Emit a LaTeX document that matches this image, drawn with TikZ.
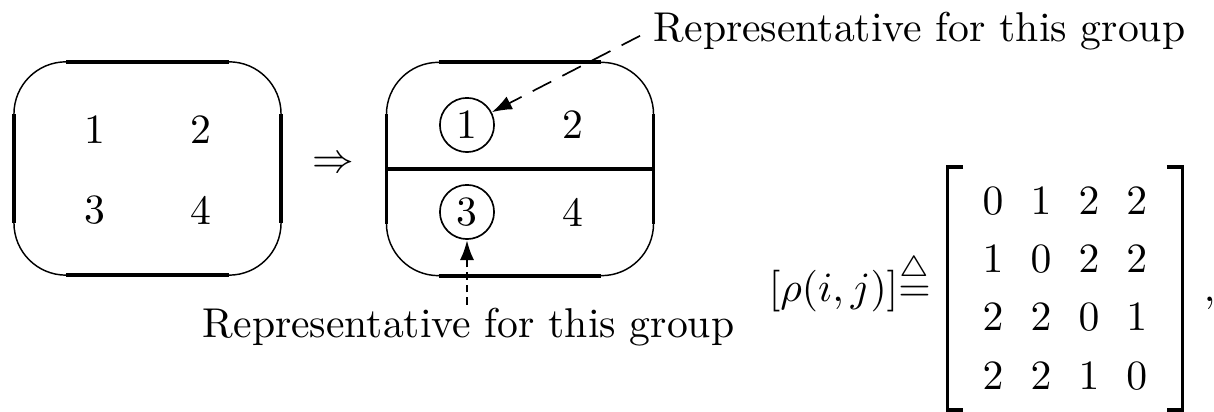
\documentclass[tikz,border=0pt]{standalone}
\usepackage{amsmath}
\usetikzlibrary{arrows.meta, positioning, calc, matrix}
\def\cornerrad{12.5pt}
\tikzset{
  straight/.style    = {line width=0.9pt},
  corner/.style      = {line width=0.35pt},
  member/.style      = {inner sep=0pt},
  rep/.style         = {circle, draw, line width=0.4pt, minimum size=13pt, inner sep=0pt},
  lookup/.style      = {-{Latex[length=1.7mm, width=1.2mm]}, line width=0.4pt, dash pattern=on 5pt off 3pt},
  lookupshort/.style = {lookup, line width=0.7pt, dash pattern=on 1.8pt off 1.2pt},
  caption/.style     = {inner sep=0pt, anchor=base west},
  groupbox/.style    = {inner sep=0pt, minimum width=63.7pt, minimum height=50.8pt},
  bracket/.style     = {line width=0.8pt},
}
% outline of a group: straight edges heavy, corners light
\newcommand{\grpframe}[1]{%
  \draw[corner, rounded corners=\cornerrad] (#1.north west) rectangle (#1.south east);
  \draw[straight] ([xshift=\cornerrad]#1.north west) -- ([xshift=-\cornerrad]#1.north east);
  \draw[straight] ([xshift=\cornerrad]#1.south west) -- ([xshift=-\cornerrad]#1.south east);
  \draw[straight] ([yshift=-\cornerrad]#1.north west) -- ([yshift=\cornerrad]#1.south west);
  \draw[straight] ([yshift=-\cornerrad]#1.north east) -- ([yshift=\cornerrad]#1.south east);
}
\begin{document}
\begin{tikzpicture}[x=0.240pt, y=-0.240pt]
  \useasboundingbox (0,0) rectangle (1214,412);

  % before: one group
  \node[groupbox] (grpA) at (147.5,168.5) {};
  \grpframe{grpA}
  \node[member] (a1) at (95,130) {1};
  \node[member] (a2) at (201,130) {2};
  \node[member] (a3) at (95,210) {3};
  \node[member] (a4) at (201,210) {4};

  \node (implies) at (333,165) {$\Rightarrow$};

  % after: two groups
  \node[groupbox] (grpB) at (520,169) {};
  \grpframe{grpB}
  \draw[straight] (grpB.west) -- (grpB.east);
  \node[rep] (b1) at (467,125) {1};
  \node[member] (b2) at (573,125) {2};
  \node[rep] (b3) at (467,212) {3};
  \node[member] (b4) at (573,212) {4};

  \node[caption] (toplab) at (653,42) {Representative for this group};
  \node[caption] (botlab) at (202,338) {Representative for this group};

  \draw[lookup] ([xshift=-3.1pt, yshift=-1pt]toplab.west) -- (b1);
  \coordinate (botpin) at ($(botlab.north -| b3)+(0,-3)$);
  \draw[lookupshort] (botpin) -- (b3);

  % distance matrix
  \node[caption] (rho) at (768,302) {$[\rho(i,j)]\mathord{\stackrel{\triangle}{=}}$};
  \matrix (dist) [matrix of math nodes, inner xsep=8.3pt, inner ysep=4.8pt,
    nodes={inner sep=0pt, text height=6.44pt, text depth=0pt, minimum width=5pt},
    column sep=6.5pt, row sep=7.5pt] at (1065,288.5) {
    0 & 1 & 2 & 2 \\
    1 & 0 & 2 & 2 \\
    2 & 2 & 0 & 1 \\
    2 & 2 & 1 & 0 \\
  };
  \draw[bracket] ([xshift=3.8pt]dist.north west) -- (dist.north west) -- (dist.south west) -- ([xshift=3.8pt]dist.south west);
  \draw[bracket] ([xshift=-3.8pt]dist.north east) -- (dist.north east) -- (dist.south east) -- ([xshift=-3.8pt]dist.south east);
  \node[caption] (comma) at (1203,302) {$,$};
\end{tikzpicture}
\end{document}
